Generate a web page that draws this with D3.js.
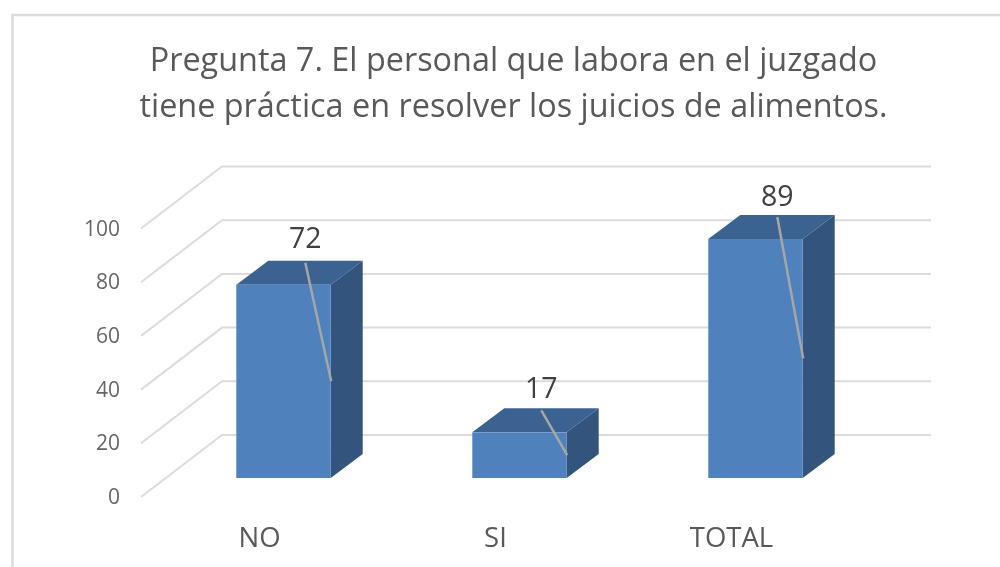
<!DOCTYPE html>
<html>
<head>
<meta charset="utf-8">
<script src="https://cdnjs.cloudflare.com/ajax/libs/d3/7.8.5/d3.min.js"></script>
<style>
body { margin: 0; background: #fff; }
svg { filter: blur(0.5px); }
text { font-family: "Open Sans", sans-serif; }
</style>
</head>
<body>
<div id="chart"></div>
<script>
const categories = ["NO", "SI", "TOTAL"];
const values = [72, 17, 89];
const yTicks = [0, 20, 40, 60, 80, 100];
const titleLines = [
    "Pregunta 7. El personal que labora en el juzgado",
    "tiene práctica en resolver los juicios de alimentos."
];

const width = 1000, height = 567;
const depthX = 32, depthY = 24;   // 3d offset of the bars
const floorX = 81, floorY = 62;   // 3d offset of the side wall
const labelLift = { NO: 13, SI: 10, TOTAL: 9 };  // labels were moved by hand in the original

const svg = d3.select("#chart").append("svg")
    .attr("width", width)
    .attr("height", height)
    .style("display", "block");

// frame, only left and top are in the picture
svg.append("path")
    .attr("d", d3.line()([[12.5, height], [12.5, 15], [width, 15]]))
    .attr("fill", "none")
    .attr("stroke", "#dcdcdc")
    .attr("stroke-width", 2.5);

// title
svg.selectAll(".title").data(titleLines).join("text")
    .attr("class", "title")
    .attr("x", 513.5)
    .attr("y", (d, i) => 71 + i * 46)
    .attr("text-anchor", "middle")
    .attr("font-size", 32.4)
    .attr("fill", "#595959")
    .text(d => d);

const x = d3.scaleBand()
    .domain(categories)
    .range([165.5, 873.5])
    .paddingInner(0.6)
    .paddingOuter(0.3);

// y positions at the middle of the floor, where the bars stand
const y = d3.scaleLinear().domain([0, 100]).range([478, 209.5]);
// y positions on the back wall
const yBack = d3.scaleLinear().domain([0, 100]).range([435, 166.5]);

// gridlines: diagonal on the side wall and then along the back wall
const wallX = 141;
const wallLeft = wallX + floorX;
const grid = svg.append("g");
grid.selectAll("path").data(yTicks).join("path")
    .attr("d", d => {
        const yb = yBack(d);
        return d3.line()([[wallX, yb + floorY], [wallLeft, yb], [931, yb]]);
    })
    .attr("fill", "none")
    .attr("stroke", "#dcdcdc")
    .attr("stroke-width", 2);

// y tick labels
svg.selectAll(".ytick").data(yTicks).join("text")
    .attr("class", "ytick")
    .attr("x", 120)
    .attr("y", d => yBack(d) + floorY + 7)
    .attr("text-anchor", "end")
    .attr("font-size", 21)
    .attr("fill", "#666")
    .text(d => d);

// bars
const data = categories.map((c, i) => ({ cat: c, value: values[i] }));
const bars = svg.selectAll(".bar").data(data).join("g").attr("class", "bar");
const bw = x.bandwidth();

bars.append("path")   // top face
    .attr("d", d => {
        const l = x(d.cat), t = y(d.value);
        return d3.line()([[l, t], [l + depthX, t - depthY], [l + bw + depthX, t - depthY], [l + bw, t]]) + "Z";
    })
    .attr("fill", "#3c6291");
bars.append("path")   // side face
    .attr("d", d => {
        const r = x(d.cat) + bw, t = y(d.value), b = y(0);
        return d3.line()([[r, t], [r + depthX, t - depthY], [r + depthX, b - depthY], [r, b]]) + "Z";
    })
    .attr("fill", "#33547d");
bars.append("rect")   // front face
    .attr("x", d => x(d.cat))
    .attr("y", d => y(d.value))
    .attr("width", bw)
    .attr("height", d => y(0) - y(d.value))
    .attr("fill", "#4f81bd");

// leader lines from the label down to half the value
bars.append("line")
    .attr("x1", d => x(d.cat) + 69)
    .attr("y1", d => y(d.value) - depthY + 2)
    .attr("x2", d => x(d.cat) + bw + 0.5)
    .attr("y2", d => y(d.value / 2))
    .attr("stroke", "#a6a6a6")
    .attr("stroke-width", 2.5);

// value labels
bars.append("text")
    .attr("x", d => x(d.cat) + 69)
    .attr("y", d => y(d.value) - depthY - labelLift[d.cat])
    .attr("text-anchor", "middle")
    .attr("font-size", 28.5)
    .attr("fill", "#404040")
    .text(d => d.value);

// category labels
svg.selectAll(".cat").data(categories).join("text")
    .attr("class", "cat")
    .attr("x", d => x(d) + bw / 2 - 24)
    .attr("y", 547)
    .attr("text-anchor", "middle")
    .attr("font-size", 27.5)
    .attr("fill", "#595959")
    .text(d => d);
</script>
</body>
</html>
